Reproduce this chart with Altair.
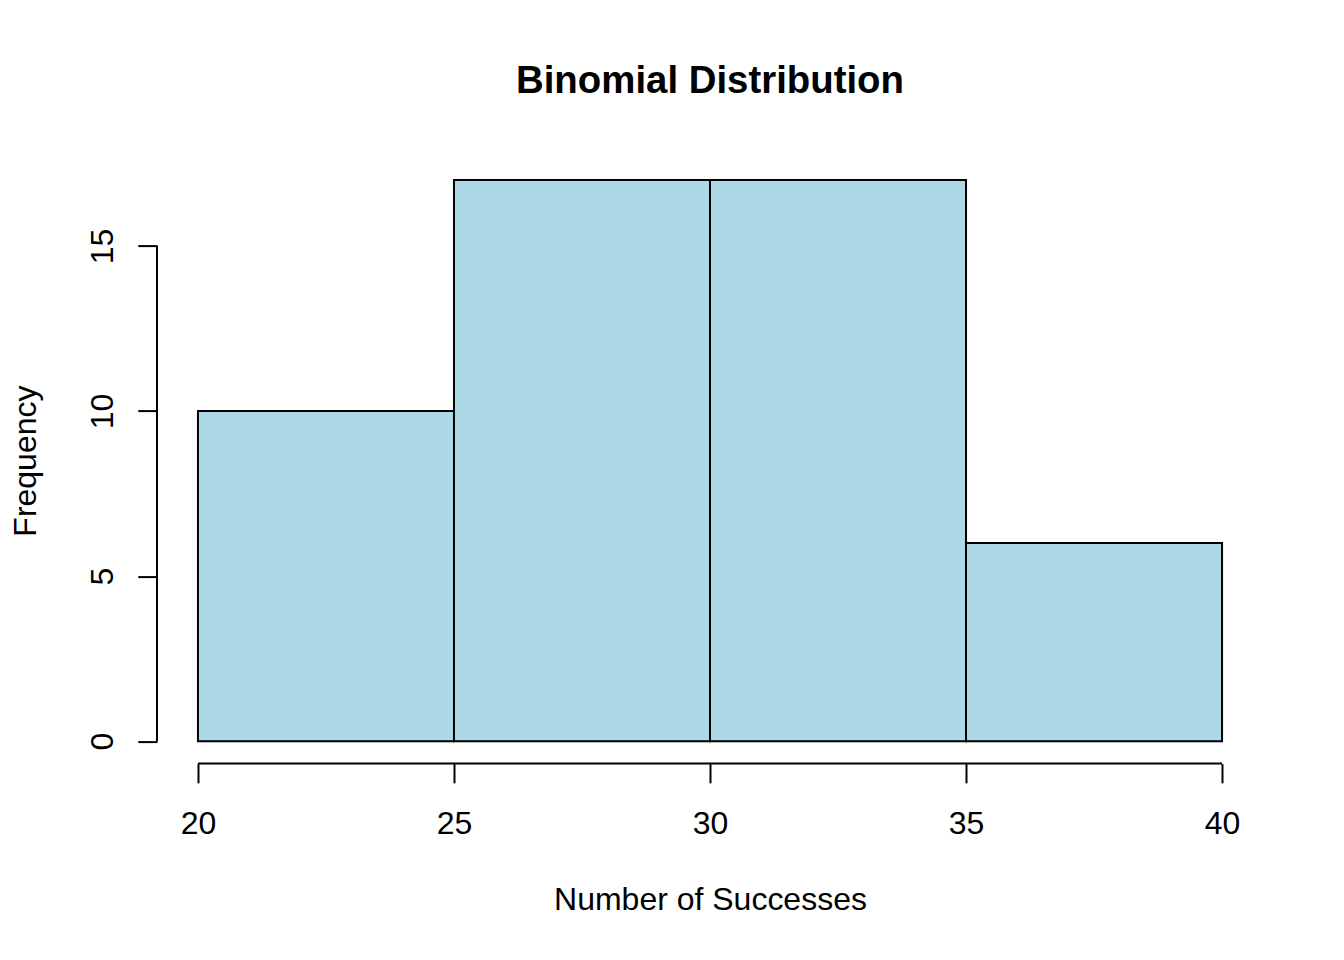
import altair as alt
import pandas as pd

bin_start = [20, 25, 30, 35]
bin_end = [25, 30, 35, 40]
counts = [10, 17, 17, 6]
x_ticks = [20, 25, 30, 35, 40]
y_ticks = [0, 5, 10, 15]

FONT = "Liberation Sans"
df = pd.DataFrame({"start": bin_start, "end": bin_end, "count": counts})

W, H = 1106, 606
xscale = alt.Scale(domain=[19.2, 40.8], nice=False, zero=False)
yscale = alt.Scale(domain=[-0.68, 17.68], nice=False, zero=False)

base = alt.Chart(df)

bars = base.mark_rect(fill="#ADD8E6", stroke="black", strokeWidth=2).encode(
    x=alt.X("start:Q", scale=xscale, axis=alt.Axis(
        values=x_ticks, title="Number of Successes", grid=False, domain=False,
        tickSize=19.2, tickWidth=2, tickColor="black",
        labelFont=FONT, labelFontSize=32, labelColor="black",
        labelBaseline="alphabetic", labelPadding=50.4, labelFlush=False,
        titleFont=FONT, titleFontSize=32, titleFontWeight="normal", titleColor="black",
        titleBaseline="alphabetic", titleY=145.6, titleX=W / 2, titleAnchor="middle")),
    x2="end:Q",
    y=alt.Y("count:Q", scale=yscale, axis=alt.Axis(
        values=y_ticks, title="Frequency", grid=False, domain=False,
        tickSize=19.2, tickWidth=2, tickColor="black",
        labelFont=FONT, labelFontSize=32, labelColor="black",
        labelAngle=270, labelAlign="center", labelBaseline="alphabetic",
        labelPadding=25.8, labelFlush=False,
        titleFont=FONT, titleFontSize=32, titleFontWeight="normal", titleColor="black",
        titleAngle=270, titleBaseline="alphabetic", titleX=-122, titleY=H / 2,
        titleAlign="center")),
    y2=alt.datum(0),
)

xline = alt.Chart(pd.DataFrame({"a": [min(x_ticks)], "b": [max(x_ticks)]})).mark_rule(
    color="black", strokeWidth=2).encode(
    x=alt.X("a:Q", scale=xscale), x2="b:Q", y=alt.value(H))

yline = alt.Chart(pd.DataFrame({"a": [min(y_ticks)], "b": [max(y_ticks)]})).mark_rule(
    color="black", strokeWidth=2).encode(
    y=alt.Y("a:Q", scale=yscale), y2="b:Q", x=alt.value(0))

chart = alt.layer(bars, xline, yline).properties(
    width=W, height=H,
    background="white",
    title=alt.TitleParams("Binomial Distribution", font=FONT, fontSize=38.4,
                          fontWeight="bold", color="black", anchor="middle",
                          frame="group", baseline="alphabetic", offset=26.6),
    autosize=alt.AutoSizeParams(type="none"),
    padding={"left": 149, "top": 149.6, "right": 73, "bottom": 188},
).configure_view(stroke="transparent", strokeWidth=0)

chart.save("out.html", embed_options={"renderer": "svg", "actions": False})
